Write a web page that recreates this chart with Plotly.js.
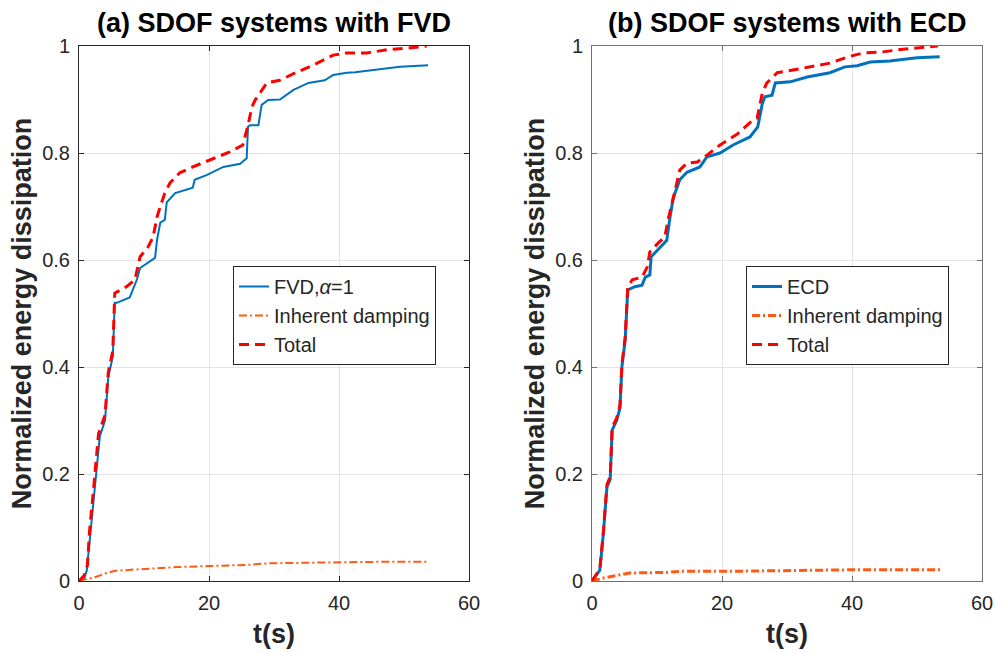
<!DOCTYPE html>
<html>
<head>
<meta charset="utf-8">
<script src="https://cdn.plot.ly/plotly-3.0.1.min.js"></script>
<style>html,body{margin:0;padding:0;background:#fff;}#chart{width:995px;height:653px;}</style>
</head>
<body>
<div id="chart"></div>
<script>
// ---- Data ----
// (a) SDOF systems with FVD
const tFvdA   = [0, 0.8, 1.2, 1.7, 2.5, 3.2, 4.0, 4.5, 5.2, 5.5, 5.8, 7.8, 8.9, 9.4, 11.7, 12, 12.5, 13.2, 13.5, 14.8, 17.5, 17.8, 19.7, 22.2, 24.8, 25.8, 26.0, 26.3, 27.6, 28.1, 29.1, 30.9, 33, 35.3, 37.8, 39.1, 41.2, 42.5, 45.3, 49.4, 53.7];
const yFvdA   = [0, 0.005, 0.02, 0.082, 0.176, 0.27, 0.30, 0.38, 0.42, 0.52, 0.52, 0.53, 0.563, 0.585, 0.604, 0.637, 0.67, 0.675, 0.708, 0.725, 0.735, 0.75, 0.759, 0.774, 0.78, 0.79, 0.849, 0.852, 0.852, 0.89, 0.899, 0.9, 0.918, 0.931, 0.936, 0.946, 0.95, 0.951, 0.955, 0.961, 0.964];
const tInhA   = [0, 1, 2.7, 4, 5.5, 8, 11.4, 15, 20, 25.8, 28.9, 33, 40.2, 47, 53.7];
const yInhA   = [0, 0.003, 0.008, 0.014, 0.019, 0.021, 0.024, 0.026, 0.028, 0.030, 0.033, 0.034, 0.035, 0.036, 0.036];
const tTotA   = [0, 0.8, 1.3, 1.6, 2.3, 3.0, 4.0, 4.5, 5.2, 5.5, 7.3, 8.6, 9.4, 10.6, 11.4, 12, 12.5, 13.2, 14, 15.5, 17.5, 20.6, 23.2, 25.2, 26.0, 26.6, 27.1, 28.9, 30.9, 33.5, 36, 39.1, 41.2, 44.3, 47.4, 50.5, 53.5];
const yTotA   = [0, 0.01, 0.03, 0.09, 0.18, 0.275, 0.31, 0.39, 0.43, 0.538, 0.55, 0.563, 0.606, 0.624, 0.643, 0.68, 0.70, 0.725, 0.744, 0.763, 0.774, 0.79, 0.802, 0.815, 0.852, 0.886, 0.899, 0.931, 0.936, 0.951, 0.964, 0.983, 0.987, 0.987, 0.993, 0.996, 1.0];

// (b) SDOF systems with ECD
const tEcdB   = [0, 1.2, 1.7, 2.3, 2.8, 3.1, 3.8, 4.3, 4.6, 5.1, 5.5, 6.6, 7.7, 8.2, 8.9, 9.1, 10.5, 11.5, 12, 12.5, 13.5, 14.6, 16.6, 17.7, 19.7, 21.7, 24.3, 25.5, 26.2, 26.6, 27.7, 28.2, 30.5, 33.1, 36.6, 38.9, 40.8, 42.8, 45.8, 50, 53.5];
const yEcdB   = [0, 0.02, 0.082, 0.176, 0.19, 0.282, 0.30, 0.323, 0.40, 0.45, 0.544, 0.55, 0.553, 0.568, 0.572, 0.606, 0.624, 0.637, 0.68, 0.716, 0.75, 0.764, 0.774, 0.793, 0.80, 0.815, 0.83, 0.849, 0.892, 0.905, 0.908, 0.931, 0.933, 0.942, 0.95, 0.961, 0.963, 0.97, 0.972, 0.978, 0.98];
const tInhB   = [0, 1.5, 3.2, 5.8, 11.5, 13.5, 20.2, 28.9, 40.2, 53.8];
const yInhB   = [0, 0.005, 0.009, 0.015, 0.016, 0.018, 0.018, 0.019, 0.021, 0.021];
const tTotB   = [0, 1.2, 1.7, 2.3, 2.8, 3.1, 3.8, 4.3, 4.6, 5.1, 5.5, 6.2, 7.7, 8.5, 8.9, 10.2, 11.2, 11.7, 12.8, 13.5, 14.6, 16.2, 17.7, 19.7, 22.3, 24.8, 25.4, 26.2, 26.9, 28.5, 30.9, 33.5, 36.6, 39.2, 41.7, 44.8, 47.8, 51.5, 53.2];
const yTotB   = [0, 0.022, 0.085, 0.18, 0.195, 0.287, 0.305, 0.328, 0.405, 0.455, 0.55, 0.563, 0.568, 0.587, 0.615, 0.632, 0.643, 0.675, 0.731, 0.768, 0.781, 0.783, 0.796, 0.815, 0.835, 0.862, 0.865, 0.912, 0.931, 0.95, 0.955, 0.961, 0.968, 0.979, 0.987, 0.989, 0.994, 0.998, 1.0];

const namesA = ['FVD,<i>α</i>=1', 'Inherent damping', 'Total'];
const namesB = ['ECD', 'Inherent damping', 'Total'];
const titles = ['(a) SDOF systems with FVD', '(b) SDOF systems with ECD'];
const xTicks = [0, 20, 40, 60];
const yTicks = [0, 0.2, 0.4, 0.6, 0.8, 1];

// ---- Styles ----
const BLUE = '#0072BD', ORANGE = '#FF5A14', RED = '#FF0000';
const FONT = 'Liberation Sans, Arial, Helvetica, sans-serif';

const traces = [
  {x: tFvdA, y: yFvdA, name: namesA[0], xaxis: 'x', yaxis: 'y', legend: 'legend', mode: 'lines', line: {color: BLUE, width: 2}},
  {x: tInhA, y: yInhA, name: namesA[1], xaxis: 'x', yaxis: 'y', legend: 'legend', mode: 'lines', line: {color: ORANGE, width: 2, dash: '8px,3px,2px,3px'}},
  {x: tTotA, y: yTotA, name: namesA[2], xaxis: 'x', yaxis: 'y', legend: 'legend', mode: 'lines', line: {color: RED, width: 3, dash: '10px,6px'}},
  {x: tEcdB, y: yEcdB, name: namesB[0], xaxis: 'x2', yaxis: 'y2', legend: 'legend2', mode: 'lines', line: {color: BLUE, width: 3}},
  {x: tInhB, y: yInhB, name: namesB[1], xaxis: 'x2', yaxis: 'y2', legend: 'legend2', mode: 'lines', line: {color: ORANGE, width: 3, dash: '8px,3px,2px,3px'}},
  {x: tTotB, y: yTotB, name: namesB[2], xaxis: 'x2', yaxis: 'y2', legend: 'legend2', mode: 'lines', line: {color: RED, width: 3, dash: '10px,6px'}}
];

function xAx(domain, anchor, lc) {
  return {
    domain: domain, anchor: anchor, range: [0, 60], tickvals: xTicks,
    showline: true, linecolor: lc, linewidth: 1, mirror: 'allticks',
    ticks: 'inside', ticklen: 5, tickcolor: lc,
    showgrid: true, gridcolor: '#e3e3e3', gridwidth: 1, zeroline: false,
    tickfont: {family: FONT, size: 20, color: '#262626'}, ticklabelstandoff: 4,
    title: {text: '<b>t(s)</b>', font: {family: FONT, size: 27, color: '#262626'}, standoff: 11}
  };
}
function yAx(domain, anchor, lc) {
  return {
    domain: domain, anchor: anchor, range: [0, 1], tickvals: yTicks,
    showline: true, linecolor: lc, linewidth: 1, mirror: 'allticks',
    ticks: 'inside', ticklen: 5, tickcolor: lc,
    showgrid: true, gridcolor: '#e3e3e3', gridwidth: 1, zeroline: false,
    tickfont: {family: FONT, size: 20, color: '#262626'}, ticklabelstandoff: 4,
    title: {text: '<b>Normalized energy dissipation</b>', font: {family: FONT, size: 27, color: '#262626'}, standoff: 2}
  };
}

const yDom = [1 - 581/653, 1 - 46/653];
const legendStyle = (x) => ({
  x: x, y: 1 - 266/653, xanchor: 'left', yanchor: 'top', xref: 'paper', yref: 'paper',
  bgcolor: '#ffffff', bordercolor: '#262626', borderwidth: 1,
  font: {family: FONT, size: 20, color: '#262626'}, tracegroupgap: 0, itemwidth: 30
});

const layout = {
  width: 995, height: 653,
  margin: {l: 0, r: 0, t: 0, b: 0},
  paper_bgcolor: '#ffffff', plot_bgcolor: '#ffffff',
  showlegend: true,
  xaxis: xAx([79/995, 469/995], 'y', '#262626'),
  yaxis: yAx(yDom, 'x', '#262626'),
  xaxis2: xAx([592/995, 982/995], 'y2', '#707070'),
  yaxis2: yAx(yDom, 'x2', '#707070'),
  legend: legendStyle(233/995),
  legend2: legendStyle(746/995),
  annotations: [
    {text: '<b>' + titles[0] + '</b>', x: 274/995, y: 1 - 23/653, xref: 'paper', yref: 'paper', xanchor: 'center', yanchor: 'middle', showarrow: false, font: {family: FONT, size: 27, color: '#000000'}},
    {text: '<b>' + titles[1] + '</b>', x: 787/995, y: 1 - 23/653, xref: 'paper', yref: 'paper', xanchor: 'center', yanchor: 'middle', showarrow: false, font: {family: FONT, size: 27, color: '#000000'}}
  ]
};

Plotly.newPlot('chart', traces, layout, {staticPlot: true, displayModeBar: false});
</script>
</body>
</html>
